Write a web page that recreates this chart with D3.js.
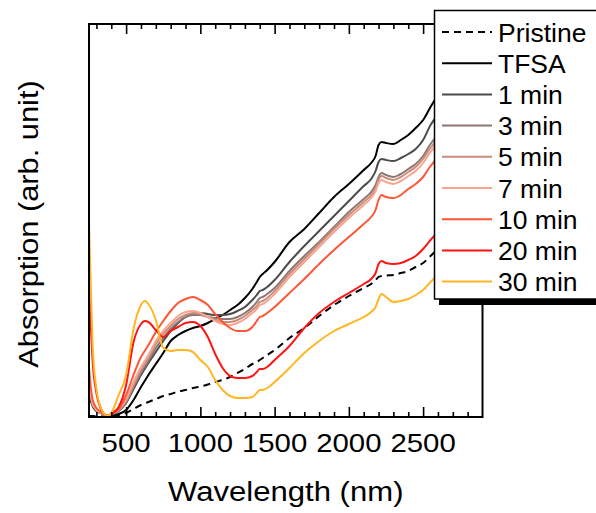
<!DOCTYPE html>
<html>
<head>
<meta charset="utf-8">
<script src="https://cdn.jsdelivr.net/npm/d3@7"></script>
<style>
  html, body { margin: 0; padding: 0; background: #fff; }
  svg { display: block; }
  text { font-family: "Liberation Sans", Arial, sans-serif; fill: #000; }
</style>
</head>
<body>
<svg id="chart" width="596" height="513"></svg>
<script>
// ---------------- DATA ----------------
const wavelengths = [250,260,275,300,330,360,380,400, 450,500,550,600,625,650, 700,750,800,850,900,950,1000, 1050,1100,1150,1200,1250,1300, 1350,1380,1400,1420,1450,1500, 1600,1700,1800,1900,2000,2100, 2150,2180,2200,2220,2250,2300, 2350,2400,2450,2500,2550,2600];

const seriesNames = ["Pristine","TFSA","1 min","3 min","5 min","7 min","10 min","20 min","30 min"];

const pristine = [1,1,1,0.5,0.5,0.5,0.5,1, 2,4,8,12,13.5,15, 18,21,23,25.5,27,29,30.5, 32.5,35,37,40,44,48, 53,55,57,59,62,67, 79,89,101,112,121,129, 133,137,140,141,141.5,142, 144,146,150,154,161,168];
const tfsa     = [26,18,11,6,4,2,1,1, 3,7,17,30,36,42, 53,64,76,82,86,89,91, 94,98,102,107,112,119, 128,135,140,143,147,155, 175,188,204,220,233,247, 254,261,272,275,274,273, 277,282,289,297,310,322];
const min1     = [38,25,14,8,4,2,1,2, 6,14,28,42,48,54, 65,76,86,94,100,103,104, 103,102,102,103,106,110, 117,122,126,127,130,137, 155,171,186,201,216,231, 238,246,255,258,257,256, 259,263,268,277,292,302];
const min3     = [35,24,13,7,4,2,1,3, 6,15,30,44,50,56, 69,79,88,95,100,102,102, 100,99,98,98,100,104, 110,115,119,120,123,129, 146,161,175,190,205,218, 225,232,240,244,242,240, 243,248,253,261,273,282];
const min5     = [32,22,12,7,4,2,1,3, 7,16,32,47,53,59, 73,83,91,98,102,104,103, 100,97,95,95,97,101, 107,111,115,116,119,126, 143,158,173,188,202,215, 222,229,237,241,239,237, 240,245,250,258,269,278];
const min7     = [36,24,13,7,4,2,1,4, 8,18,35,50,56,62, 76,86,94,101,105,106,104, 100,96,93,92,94,98, 104,108,112,113,116,123, 140,155,170,185,199,212, 219,226,234,237,235,233, 236,241,246,254,265,274];
const min10    = [50,33,17,9,5,2,1,4, 8,22,42,60,66,72, 85,96,106,114,118,120,117, 112,103,95,89,86,86, 90,96,100,101,104,110, 124,138,153,167,180,193, 200,207,217,222,220,219, 222,228,233,240,251,259];
const min20    = [137,100,55,24,8,2,1,3, 10,32,75,93,96,95, 87,80,86,90,94,95,91, 80,63,49,41,39,39, 41,45,48,48,50,57, 71,89,104,115,124,133, 138,144,153,156,154,153, 154,157,161,168,177,185];
const min30    = [195,140,70,28,9,2,1,4, 22,42,88,112,116,113, 97,69,66,67,67,65,57, 50,37,27,21,19,19, 20,24,27,27,29,35, 49,64,76,86,93,100, 105,110,118,123,120,115, 116,118,122,127,135,142];

const majorTicks = [500,1000,1500,2000,2500];
const minorTicks = [300,400,600,700,800,900,1100,1200,1300,1400,1600,1700,1800,1900,2100,2200,2300,2400,2600,2700,2800];

const xLabel = "Wavelength (nm)";
const yLabel = "Absorption (arb. unit)";

// ---------------- STYLES ----------------
const seriesValues = [pristine, tfsa, min1, min3, min5, min7, min10, min20, min30];
const colors = ["#000000","#000000","#4b4b4b","#8c7772","#cc8c7c","#f9a48e","#ff5636","#ff1414","#ffb622"];
const dashes = ["7,5",null,null,null,null,null,null,null,null];

// ---------------- LAYOUT ----------------
const L = 89, R = 482.5, T = 24, B = 417;
const svg = d3.select("#chart");

const x = d3.scaleLinear().domain([250, 2900]).range([L, R]);
const y = d3.scaleLinear().domain([0, 393]).range([B, T]);

svg.append("defs").append("clipPath").attr("id","clip")
  .append("rect").attr("x", L).attr("y", T).attr("width", R - L).attr("height", B - T);

const line = d3.line()
  .x((d) => x(d[0]))
  .y((d) => y(d[1]))
  .curve(d3.curveMonotoneX);

const gLines = svg.append("g").attr("clip-path","url(#clip)");
// draw from last to first so black lines sit on top similar to original
seriesValues.forEach((vals, i) => {
  const pts = wavelengths.map((w, k) => [w, vals[k]]);
  gLines.append("path")
    .attr("d", line(pts))
    .attr("fill","none")
    .attr("stroke", colors[i])
    .attr("stroke-width", 2)
    .attr("stroke-dasharray", dashes[i])
    .attr("stroke-linejoin","round");
});

// Axes (ticks inward)
function styleAxis(g) {
  g.select(".domain").remove();
  g.selectAll(".tick line").attr("stroke","#000").attr("stroke-width",1.6);
  g.selectAll(".tick text").remove();
}
svg.append("g").attr("transform",`translate(0,${B})`)
  .call(d3.axisBottom(x).tickValues(majorTicks).tickSize(-10)).call(styleAxis);
svg.append("g").attr("transform",`translate(0,${B})`)
  .call(d3.axisBottom(x).tickValues(minorTicks).tickSize(-5)).call(styleAxis);
svg.append("g").attr("transform",`translate(0,${T})`)
  .call(d3.axisTop(x).tickValues(majorTicks).tickSize(-10)).call(styleAxis);
svg.append("g").attr("transform",`translate(0,${T})`)
  .call(d3.axisTop(x).tickValues(minorTicks).tickSize(-5)).call(styleAxis);

// Frame
svg.append("rect").attr("x", L).attr("y", T).attr("width", R - L).attr("height", B - T)
  .attr("fill","none").attr("stroke","#000").attr("stroke-width",2);

// Tick labels
svg.append("g").selectAll("text").data(majorTicks).join("text")
  .attr("transform", (d) => `translate(${x(d)},451.5) scale(1.13,1)`)
  .attr("text-anchor","middle")
  .attr("font-size", 26)
  .text((d) => d);

// Axis titles
svg.append("text")
  .attr("transform", `translate(${(L + R) / 2},501) scale(1.11,1)`)
  .attr("text-anchor","middle").attr("font-size", 28)
  .text(xLabel);
svg.append("text")
  .attr("transform", `translate(37.5,224) rotate(-90) scale(1.1,1)`)
  .attr("text-anchor","middle").attr("font-size", 28)
  .text(yLabel);

// Legend
const lgX = 434.5, lgY = 10.5, lgW = 180, lgH = 288.5;
svg.append("rect").attr("x", lgX + 4.5).attr("y", lgY + 6).attr("width", lgW).attr("height", lgH).attr("fill","#000");
svg.append("rect").attr("x", lgX).attr("y", lgY).attr("width", lgW).attr("height", lgH)
  .attr("fill","#fff").attr("stroke","#000").attr("stroke-width",1.5);

const lg = svg.append("g");
seriesNames.forEach((name, i) => {
  const cy = 32 + i * 31.2;
  lg.append("line").attr("x1", 442).attr("x2", 492).attr("y1", cy).attr("y2", cy)
    .attr("stroke", colors[i]).attr("stroke-width", 2).attr("stroke-dasharray", dashes[i]);
  lg.append("text").attr("x", 498).attr("y", cy + 9.5).attr("font-size", 26.5).text(name);
});
</script>
</body>
</html>
